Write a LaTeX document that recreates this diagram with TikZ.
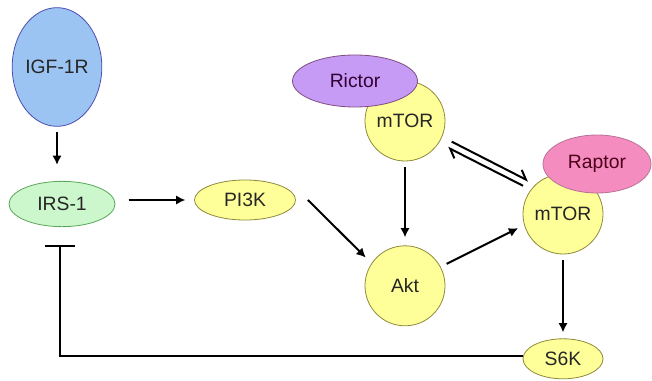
\documentclass[tikz,border=0pt]{standalone}
\usepackage{fontspec}
\setmainfont{Liberation Sans}
\usetikzlibrary{positioning,shapes.geometric,arrows.meta}
\definecolor{AzulRec}{HTML}{9CC4F2}
\definecolor{VerdeIRS}{HTML}{CCF7CC}
\definecolor{Amarillo}{HTML}{FFFF99}
\definecolor{Lila}{HTML}{C59BF5}
\definecolor{Rosa}{HTML}{F58CC0}
\tikzstyle{Protein}=[ellipse, draw=gray!80!black, line width=0.6pt, inner sep=0pt, text=black!85, font=\fontsize{14.5}{17}\selectfont]
\tikzstyle{Kinase}=[Protein, fill=Amarillo, draw=olive!60!gray]
\tikzstyle{Complex}=[Kinase, circle, minimum size=60pt]
\tikzstyle{Flecha}=[-{Latex[length=7pt,width=7pt]}, line width=1.5pt]
\tikzstyle{Medio}=[-{Straight Barb[left,length=6pt,width=10pt]}, line width=1.5pt]
\tikzstyle{Inhibe}=[-{Bar[width=22pt]}, line width=1.5pt]

\begin{document}
\begin{tikzpicture}[x=0.75pt,y=-0.75pt]
			\useasboundingbox (0,0) rectangle (652,381);
			%Nodes
			\node[Protein, fill=AzulRec, draw=gray!60!blue, minimum width=61.5pt, minimum height=89pt]	(igf1r)	at (57,67)	{IGF-1R};
			\node[Protein, fill=VerdeIRS, draw=gray!70!green, minimum width=79.5pt, minimum height=34pt]	(irs1)	at (62,204)	{IRS-1};
			\node[Kinase, minimum width=75.75pt, minimum height=30pt]	(pi3k)	at (245,200)	{PI3K};

			\node[Complex]	(mtorc1)	at (405,121)	{mTOR};
			\node[Complex]	(akt)	[below=63pt of mtorc1]	{Akt};
			\node[Complex]	(mtorc2)	at (563,214)	{mTOR};
			\node[Kinase, minimum width=60pt, minimum height=30pt]	(s6k)	[below=63pt of mtorc2]	{S6K};

			\node[Protein, fill=Lila, draw=gray!60!violet, text=violet!40!black, minimum width=93.75pt, minimum height=39pt]	(rictor)	at (355,81)	{Rictor};
			\node[Protein, fill=Rosa, draw=gray!60!magenta, text=purple!40!black, minimum width=81pt, minimum height=43.5pt]	(raptor)	at (597,164)	{Raptor};

			%Lines
			\draw[Flecha, shorten <=4pt, shorten >=12pt] (igf1r.south) -- (igf1r.south |- irs1.north);
			\draw[Flecha, shorten <=10pt, shorten >=6.5pt] (irs1.east |- pi3k.east) -- (pi3k.west);
			\draw[Flecha, shorten >=6pt] ([xshift=9pt]pi3k.east) -- (akt.146);
			\draw[Flecha, shorten <=4.5pt, shorten >=6pt] (mtorc1) -- (akt);
			\draw[Flecha, shorten <=5pt, shorten >=5pt] (akt.28) -- (mtorc2.196);
			\draw[Flecha, shorten <=4.5pt, shorten >=4.5pt] (mtorc2.south) -- (s6k.north);
			\draw[Medio, shorten <=8pt, shorten >=6pt] (mtorc1.-23) -- (mtorc2.133);
			\draw[Medio, shorten <=6.5pt, shorten >=7.5pt] (mtorc2.143) -- (mtorc1.-33);
			\draw[Inhibe, shorten >=13.5pt] ([yshift=2.25pt]s6k.west) -| ([xshift=-1.5pt]irs1.south);

		\end{tikzpicture}
\end{document}
